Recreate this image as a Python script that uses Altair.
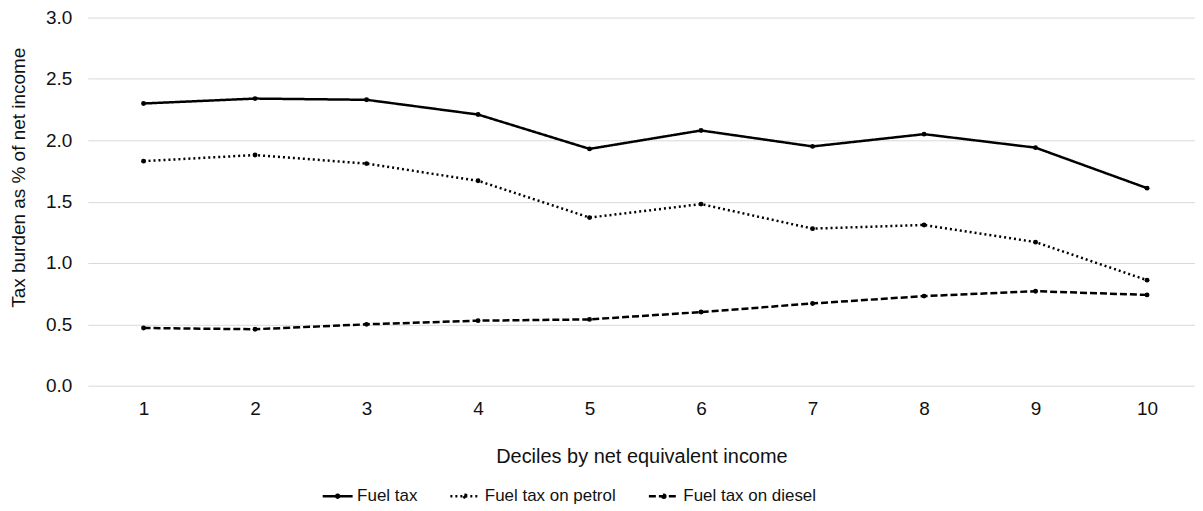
import altair as alt
import pandas as pd

deciles = [1, 2, 3, 4, 5, 6, 7, 8, 9, 10]
series_names = ["Fuel tax", "Fuel tax on petrol", "Fuel tax on diesel"]
fuel_tax = [2.30, 2.34, 2.33, 2.21, 1.93, 2.08, 1.95, 2.05, 1.94, 1.61]
fuel_petrol = [1.83, 1.88, 1.81, 1.67, 1.37, 1.48, 1.28, 1.31, 1.17, 0.86]
fuel_diesel = [0.47, 0.46, 0.50, 0.53, 0.54, 0.60, 0.67, 0.73, 0.77, 0.74]

rows = []
for name, vals in zip(series_names, [fuel_tax, fuel_petrol, fuel_diesel]):
    for d, v in zip(deciles, vals):
        rows.append({"decile": d, "value": v, "series": name})
df = pd.DataFrame(rows)

FONT = "Liberation Sans"
symbol_path = "M-1,0H1M-0.1,0a0.1,0.1 0 1,0 0.2,0a0.1,0.1 0 1,0 -0.2,0"

x_enc = alt.X(
    "decile:Q",
    scale=alt.Scale(domain=[0.5, 10.43], nice=False, zero=False),
    axis=alt.Axis(
        values=deciles, format="d", grid=False, domain=False, ticks=False,
        labelPadding=14, title="Deciles by net equivalent income",
        titlePadding=28,
    ),
)
y_enc = alt.Y(
    "value:Q",
    scale=alt.Scale(domain=[0, 3], nice=False),
    axis=alt.Axis(
        values=[0, 0.5, 1.0, 1.5, 2.0, 2.5, 3.0], format=".1f",
        domain=False, ticks=False, labelPadding=16,
        title="Tax burden as % of net income", titleFontSize=19,
        titleX=-69, titleY=160, titleAngle=270, titleAlign="center",
        titleBaseline="middle",
    ),
)

base = alt.Chart(df)

lines = base.mark_line(color="black", strokeWidth=2.5).encode(
    x=x_enc,
    y=y_enc,
    strokeDash=alt.StrokeDash(
        "series:N",
        sort=series_names,
        scale=alt.Scale(domain=series_names, range=[[1, 0], [2, 3], [7, 3]]),
        legend=alt.Legend(
            title=None, orient="none", direction="horizontal",
            legendX=234, legendY=463,
            symbolType=symbol_path, symbolSize=900, symbolStrokeWidth=2.5,
            symbolStrokeColor="black", symbolFillColor="black",
            labelFontSize=17, labelFont=FONT, labelColor="#111",
            columnPadding=27, labelOffset=3,
        ),
    ),
    detail="series:N",
)

points = base.mark_point(filled=True, color="black", size=24, opacity=1).encode(
    x=x_enc,
    y=y_enc,
    detail="series:N",
)

chart = alt.layer(lines, points).properties(
    width=1110,
    height=369,
    padding={"left": 2, "top": 0, "right": 0, "bottom": 0},
).configure_view(
    stroke=None
).configure_axis(
    labelFont=FONT, titleFont=FONT, labelFontSize=19, titleFontSize=20,
    labelColor="#111", titleColor="#111", titleFontWeight="normal",
    gridColor="#d9d9d9", gridWidth=1,
)

chart.save("out.html", embed_options={"renderer": "svg", "actions": False})
